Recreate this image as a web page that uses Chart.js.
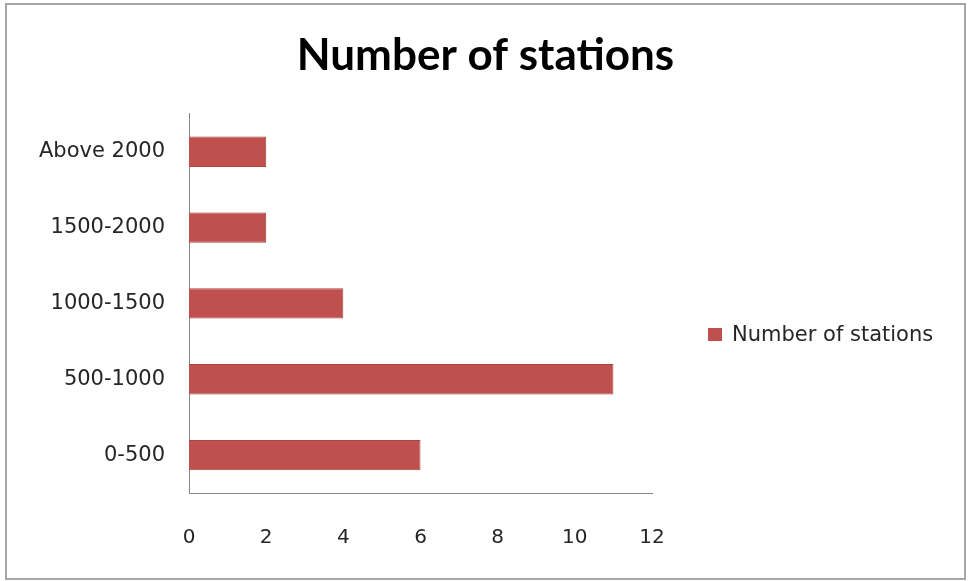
<!DOCTYPE html>
<html>
<head>
<meta charset="utf-8">
<title>Number of stations</title>
<script src="https://cdn.jsdelivr.net/npm/chart.js@4.4.1/dist/chart.umd.min.js"></script>
<style>
    html, body { margin: 0; padding: 0; background: #fff; }
    .frame {
        position: absolute; left: 5px; top: 3px; width: 961px; height: 577px;
        box-sizing: border-box; border: 2px solid #a6a6a6; background: #fff;
    }
    #chart { display: block; }
    #legend {
        position: absolute; left: 701px; top: 316px;
        display: flex; align-items: center;
        font-family: "DejaVu Sans", sans-serif; font-size: 21px; color: #262626;
        line-height: 26px;
    }
    #legend .sw { width: 14px; height: 13px; margin-right: 10px; }
</style>
</head>
<body>
<div class="frame">
    <canvas id="chart" width="957" height="573"></canvas>
    <div id="legend"></div>
</div>
<script>
"use strict";
// station counts per elevation band (m)
var bands = ['0-500', '500-1000', '1000-1500', '1500-2000', 'Above 2000'];
var stations = [6, 11, 4, 2, 2];
var xTicks = [0, 2, 4, 6, 8, 10, 12];

var seriesName = 'Number of stations';
var barColor = '#C0504D';
var axisColor = '#868686';
var tickFont = { family: '"DejaVu Sans", sans-serif', size: 21 };

var chart = new Chart(document.getElementById('chart'), {
    type: 'bar',
    data: {
        labels: bands,
        datasets: [{
            label: seriesName, data: stations,
            backgroundColor: barColor, borderColor: '#a94440', borderWidth: 1,
            barPercentage: 0.4, categoryPercentage: 1
        }]
    },
    options: {
        indexAxis: 'y',
        responsive: false,
        animation: false,
        plugins: {
            legend: { display: false },
            tooltip: { enabled: false },
            title: {
                display: true, text: seriesName, color: '#000',
                font: { family: 'Lato, sans-serif', size: 44, weight: 'bold' },
                padding: { top: 24, bottom: 32 }
            }
        },
        scales: {
            x: {
                min: xTicks[0], max: xTicks[xTicks.length - 1],
                afterBuildTicks: function (s) { s.ticks = xTicks.map(function (v) { return { value: v }; }); },
                afterFit: function (s) { s.height = 85; },
                grid: { display: false, drawTicks: false },
                border: { display: true, color: axisColor, width: 1 },
                ticks: { color: '#262626', font: { family: tickFont.family, size: 20 }, padding: 33 }
            },
            y: {
                reverse: true,
                afterFit: function (s) { s.width = 182; },
                grid: { display: false, drawTicks: false },
                border: { display: true, color: axisColor, width: 1 },
                ticks: { color: '#262626', font: tickFont, padding: 24 }
            },
            // empty right-hand strip that the html legend sits in;
            // keeps the title centred on the whole canvas
            legendSpace: {
                axis: 'y', type: 'category', position: 'right', labels: bands,
                afterFit: function (s) { s.width = 312; },
                grid: { display: false, drawTicks: false },
                border: { display: false },
                ticks: { display: false }
            }
        }
    }
});

// legend drawn beside the plot, from the dataset itself
document.getElementById('legend').innerHTML = chart.data.datasets.map(function (ds) {
    return '<span class="sw" style="background:' + ds.backgroundColor + '"></span><span>' + ds.label + '</span>';
}).join('');
</script>
</body>
</html>
